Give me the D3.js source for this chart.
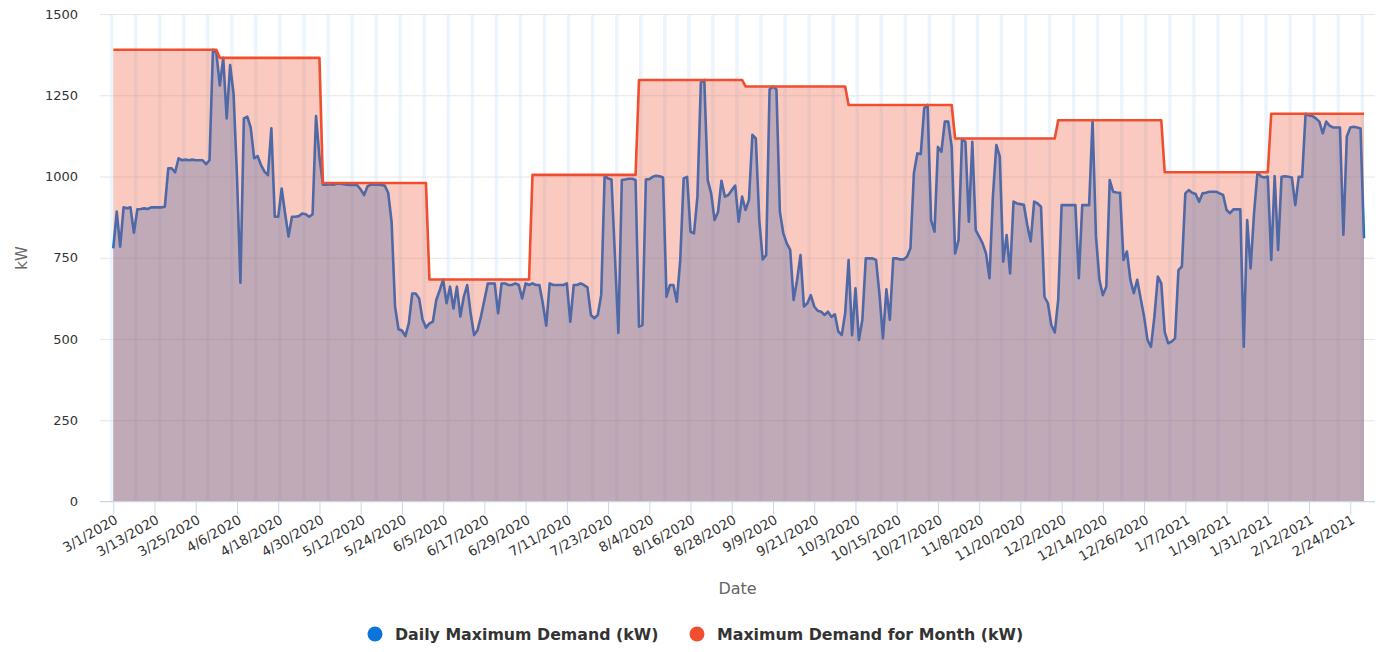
<!DOCTYPE html>
<html>
<head>
<meta charset="utf-8">
<script src="https://cdn.jsdelivr.net/npm/d3@7"></script>
<style>
body { margin: 0; background: #fff; }
svg { display: block; font-family: "DejaVu Sans", Verdana, sans-serif; }
</style>
</head>
<body>
<div id="chart"></div>
<script>
// daily maximum demand (kW), one array per month, first day 3/1/2020
var mar20 = [779, 892, 784, 905, 902, 905, 827, 899, 900, 902, 900, 905, 905, 905, 905, 907, 1025, 1025, 1013, 1056, 1050, 1052, 1050, 1052, 1050, 1050, 1050, 1038, 1050, 1390, 1380]
var apr20 = [1280, 1365, 1179, 1343, 1255, 1000, 673, 1179, 1184, 1150, 1056, 1063, 1035, 1015, 1004, 1148, 876, 876, 963, 886, 815, 876, 876, 878, 886, 884, 876, 884, 1186, 1060]
var may20 = [975, 975, 976, 975, 978, 978, 976, 975, 974, 975, 973, 960, 943, 970, 975, 975, 975, 974, 972, 950, 860, 600, 530, 526, 509, 548, 640, 640, 625, 560, 535]
var jun20 = [548, 553, 620, 650, 683, 610, 661, 594, 661, 569, 630, 666, 579, 512, 527, 569, 620, 671, 671, 671, 579, 671, 671, 666, 666, 671, 666, 625, 671, 666]
var jul20 = [671, 666, 666, 610, 541, 671, 666, 666, 666, 666, 671, 553, 666, 666, 671, 666, 659, 574, 564, 574, 635, 1003, 994, 991, 753, 519, 989, 991, 993, 993, 989]
var aug20 = [538, 543, 991, 992, 999, 1002, 1001, 997, 630, 666, 666, 615, 743, 994, 999, 830, 825, 938, 1289, 1297, 989, 948, 866, 891, 987, 938, 943, 958, 972, 861, 938]
var sep20 = [897, 928, 1128, 1117, 866, 745, 758, 1268, 1277, 1268, 892, 825, 794, 774, 620, 681, 758, 600, 610, 635, 600, 587, 584, 574, 584, 568, 576, 523, 512, 579]
var oct20 = [743, 512, 656, 497, 559, 748, 748, 748, 743, 635, 502, 653, 559, 748, 748, 745, 745, 753, 779, 1010, 1071, 1069, 1210, 1220, 866, 830, 1091, 1076, 1169, 1169, 1091]
var nov20 = [763, 805, 1115, 1107, 861, 1107, 835, 815, 794, 763, 687, 940, 1097, 1061, 738, 820, 702, 923, 917, 915, 913, 851, 800, 923, 917, 907, 630, 610, 543, 520]
var dec20 = [620, 912, 912, 912, 912, 912, 687, 912, 912, 912, 1174, 815, 682, 635, 661, 989, 953, 951, 950, 743, 769, 682, 641, 682, 625, 569, 497, 476, 569, 692, 671]
var jan21 = [522, 487, 492, 502, 712, 723, 948, 958, 950, 946, 922, 948, 950, 953, 953, 953, 948, 943, 897, 887, 899, 899, 899, 476, 866, 717, 887, 1013, 1000, 997, 1000]
var feb21 = [743, 1001, 774, 999, 1001, 999, 997, 912, 999, 999, 1193, 1188, 1186, 1179, 1169, 1133, 1169, 1156, 1151, 1151, 1151, 821, 1123, 1151, 1153, 1151, 1148, 810]

// maximum demand for each month, Mar 2020 .. Feb 2021
var monthMax = [1390, 1365, 980, 683, 1005, 1297, 1277, 1220, 1117, 1173, 1013, 1193]

var tickLabels = ["3/1/2020", "3/13/2020", "3/25/2020", "4/6/2020", "4/18/2020", "4/30/2020",
  "5/12/2020", "5/24/2020", "6/5/2020", "6/17/2020", "6/29/2020", "7/11/2020", "7/23/2020",
  "8/4/2020", "8/16/2020", "8/28/2020", "9/9/2020", "9/21/2020", "10/3/2020", "10/15/2020",
  "10/27/2020", "11/8/2020", "11/20/2020", "12/2/2020", "12/14/2020", "12/26/2020",
  "1/7/2021", "1/19/2021", "1/31/2021", "2/12/2021", "2/24/2021"]
var yTicks = [0, 250, 500, 750, 1000, 1250, 1500]

var wd = 1387
var ht = 652
var pl = 100, pr = 1375, pt = 14, pb = 501.5 // plot area edges

var svg = d3.select("#chart").append("svg")
  .attr("width", wd)
  .attr("height", ht)

var start = new Date(Date.UTC(2020, 2, 1))
var daily = [].concat(mar20, apr20, may20, jun20, jul20, aug20, sep20, oct20, nov20, dec20, jan21, feb21)
var data = daily.map(function(v, i) {
  var dt = d3.utcDay.offset(start, i)
  var m = (dt.getUTCFullYear() - 2020) * 12 + dt.getUTCMonth() - 2
  return {date: dt, kw: v, mmax: monthMax[m]}
})

var x = d3.scaleUtc()
  .domain([data[0].date, data[data.length - 1].date])
  .range([113.3, 1364])
var y = d3.scaleLinear().domain([0, 1500]).range([pb, pt])

var parse = d3.utcParse("%m/%d/%Y")
var tickDates = tickLabels.map(parse)

svg.append("clipPath").attr("id", "plotclip")
  .append("rect")
  .attr("x", pl).attr("y", pt)
  .attr("width", pr - pl).attr("height", pb - pt)

// weekend stripes
var weeks = d3.range(-1, 53)
svg.append("g").attr("clip-path", "url(#plotclip)")
  .selectAll("rect")
  .data(weeks)
  .enter().append("rect")
  .attr("x", function(k) { return x(d3.utcDay.offset(start, 6 + 7 * k)) })
  .attr("width", function(k) { return x(d3.utcDay.offset(start, 7 + 7 * k)) - x(d3.utcDay.offset(start, 6 + 7 * k)) })
  .attr("y", pt)
  .attr("height", pb - pt)
  .attr("fill", "#ecf5fb")

// y grid + labels
var yAx = svg.append("g")
  .attr("transform", "translate(" + pl + ",0)")
  .call(d3.axisLeft(y).tickValues(yTicks).tickSize(-(pr - pl)).tickPadding(22)
    .tickFormat(d3.format("d")))
yAx.select(".domain").remove()
yAx.selectAll(".tick line").attr("stroke", "#e6e6e6")
yAx.selectAll(".tick text")
  .attr("fill", "#333")
  .style("font-size", "13px")
  .style("font-family", "DejaVu Sans, Verdana, sans-serif")

// daily demand series
var blueArea = d3.area()
  .x(function(d) { return x(d.date) })
  .y0(y(0))
  .y1(function(d) { return y(d.kw) })
var blueLine = d3.line()
  .x(function(d) { return x(d.date) })
  .y(function(d) { return y(d.kw) })

svg.append("path").datum(data)
  .attr("d", blueArea)
  .attr("fill", "rgb(10,116,218)")
  .attr("fill-opacity", 0.33)
svg.append("path").datum(data)
  .attr("d", blueLine)
  .attr("fill", "none")
  .attr("stroke", "rgb(10,116,218)")
  .attr("stroke-width", 2.6)
  .attr("stroke-linejoin", "round")

// monthly max series
var redArea = d3.area()
  .x(function(d) { return x(d.date) })
  .y0(y(0))
  .y1(function(d) { return y(d.mmax) })
var redLine = d3.line()
  .x(function(d) { return x(d.date) })
  .y(function(d) { return y(d.mmax) })

svg.append("path").datum(data)
  .attr("d", redArea)
  .attr("fill", "rgb(240,78,47)")
  .attr("fill-opacity", 0.3)
svg.append("path").datum(data)
  .attr("d", redLine)
  .attr("fill", "none")
  .attr("stroke", "rgb(240,78,47)")
  .attr("stroke-width", 2.6)
  .attr("stroke-linejoin", "round")

// x axis
svg.append("line")
  .attr("x1", pl).attr("x2", pr)
  .attr("y1", pb).attr("y2", pb)
  .attr("stroke", "#ccd6eb")
var xAx = svg.append("g")
  .attr("transform", "translate(0," + pb + ")")
  .call(d3.axisBottom(x).tickValues(tickDates).tickSize(13)
    .tickFormat(function(d, i) { return tickLabels[i] }))
xAx.select(".domain").remove()
xAx.selectAll(".tick line").attr("stroke", "#ccd6eb")
xAx.selectAll(".tick text")
  .attr("y", 0).attr("dy", null)
  .attr("text-anchor", "end")
  .attr("transform", "translate(5,21) rotate(-30)")
  .attr("fill", "#333")
  .style("font-size", "13.5px")
  .style("font-family", "DejaVu Sans, Verdana, sans-serif")

// axis titles
svg.append("text")
  .attr("transform", "translate(27,258) rotate(-90)")
  .attr("text-anchor", "middle")
  .attr("fill", "#666")
  .style("font-size", "15px")
  .text("kW")
svg.append("text")
  .attr("x", (pl + pr) / 2)
  .attr("y", 594)
  .attr("text-anchor", "middle")
  .attr("fill", "#666")
  .style("font-size", "16px")
  .text("Date")

// legend
var legend = [
  {name: "Daily Maximum Demand (kW)", colour: "#0a74da", cx: 375},
  {name: "Maximum Demand for Month (kW)", colour: "#f04e2f", cx: 697}
]
var lg = svg.selectAll(".leg").data(legend).enter().append("g").attr("class", "leg")
lg.append("circle")
  .attr("cx", function(d) { return d.cx })
  .attr("cy", 634)
  .attr("r", 7.5)
  .attr("fill", function(d) { return d.colour })
lg.append("text")
  .attr("x", function(d) { return d.cx + 20 })
  .attr("y", 639.5)
  .attr("fill", "#333")
  .style("font-size", "15.8px")
  .style("font-weight", "bold")
  .text(function(d) { return d.name })
</script>
</body>
</html>
